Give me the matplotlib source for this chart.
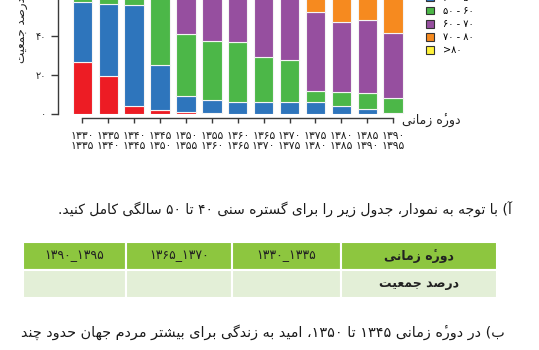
import matplotlib
matplotlib.use('Agg')
import matplotlib.pyplot as plt
from matplotlib.patches import Patch

plt.rcParams['font.family'] = 'DejaVu Sans'

# ---- data (part above 59% is cut off) ----
period_start = [1330, 1335, 1340, 1345, 1350, 1355, 1360, 1365, 1370, 1375, 1380, 1385, 1390]
period_end = [1335, 1340, 1345, 1350, 1355, 1360, 1365, 1370, 1375, 1380, 1385, 1390, 1395]
under_40 = [26.5, 19.6, 3.8, 1.7, 0.8, 0.4, 0, 0, 0, 0, 0, 0, 0]
age_40_50 = [31.1, 37.2, 52.5, 23.3, 8.2, 6.5, 5.8, 5.8, 5.8, 5.8, 4.1, 2.1, 0.5]
age_50_60 = [30, 29, 28.5, 45, 32, 30.5, 30.9, 23.5, 21.6, 5.7, 6.9, 8.5, 7.3]
age_60_70 = [12, 14, 15, 29, 57, 59, 59, 65, 66, 41.2, 36.5, 37.6, 33.9]
age_70_80 = [0.4, 0.2, 0.2, 1, 2, 3.6, 4.3, 5.7, 6.6, 42, 46, 44, 48]
over_80 = [0, 0, 0, 0, 0, 0, 0, 0, 0, 5.3, 6.5, 7.8, 10.3]
series = [under_40, age_40_50, age_50_60, age_60_70, age_70_80, over_80]
legend_labels = ['<۴۰', '۴۰ - ۵۰', '۵۰ - ۶۰', '۶۰ - ۷۰', '۷۰ - ۸۰', '>۸۰']
colors = ['#ED1C24', '#2E75BC', '#4CB748', '#964F9F', '#F68A1F', '#FFF23A']
y_ticks = [0, 20, 40]

table_periods = ['۱۳۹۰_۱۳۹۵', '۱۳۶۵_۱۳۷۰', '۱۳۳۰_۱۳۳۵']

# ---- minimal Persian shaping (matplotlib has no bidi / joining) ----
FORMS = {
    'ا': (0xFE8D, 0xFE8E, None, None), 'آ': (0xFE81, 0xFE82, None, None),
    'ب': (0xFE8F, 0xFE90, 0xFE91, 0xFE92), 'پ': (0xFB56, 0xFB57, 0xFB58, 0xFB59),
    'ت': (0xFE95, 0xFE96, 0xFE97, 0xFE98), 'ج': (0xFE9D, 0xFE9E, 0xFE9F, 0xFEA0),
    'چ': (0xFB7A, 0xFB7B, 0xFB7C, 0xFB7D), 'ح': (0xFEA1, 0xFEA2, 0xFEA3, 0xFEA4),
    'د': (0xFEA9, 0xFEAA, None, None), 'ر': (0xFEAD, 0xFEAE, None, None),
    'ز': (0xFEAF, 0xFEB0, None, None), 'س': (0xFEB1, 0xFEB2, 0xFEB3, 0xFEB4),
    'ش': (0xFEB5, 0xFEB6, 0xFEB7, 0xFEB8), 'ص': (0xFEB9, 0xFEBA, 0xFEBB, 0xFEBC),
    'ع': (0xFEC9, 0xFECA, 0xFECB, 0xFECC), 'ک': (0xFB8E, 0xFB8F, 0xFB90, 0xFB91),
    'گ': (0xFB92, 0xFB93, 0xFB94, 0xFB95), 'ل': (0xFEDD, 0xFEDE, 0xFEDF, 0xFEE0),
    'م': (0xFEE1, 0xFEE2, 0xFEE3, 0xFEE4), 'ن': (0xFEE5, 0xFEE6, 0xFEE7, 0xFEE8),
    'و': (0xFEED, 0xFEEE, None, None), 'ه': (0xFEE9, 0xFEEA, 0xFEEB, 0xFEEC),
    'ی': (0xFBFC, 0xFBFD, 0xFBFE, 0xFBFF),
}
MARKS = {'\u0654'}
DIGITS = set('۰۱۲۳۴۵۶۷۸۹0123456789')
MIRROR = {'(': ')', ')': '('}


def shape(text):
    res = []
    n = len(text)
    for i, c in enumerate(text):
        if c not in FORMS:
            res.append(c)
            continue
        j = i - 1
        while j >= 0 and text[j] in MARKS:
            j -= 1
        k = i + 1
        while k < n and text[k] in MARKS:
            k += 1
        joins_prev = j >= 0 and text[j] in FORMS and FORMS[text[j]][2] is not None
        joins_next = k < n and text[k] in FORMS and FORMS[c][2] is not None
        iso, fin, ini, med = FORMS[c]
        if joins_prev and joins_next:
            g = med
        elif joins_prev:
            g = fin
        elif joins_next:
            g = ini
        else:
            g = iso
        res.append(chr(g))
    return ''.join(res)


def fa(text):
    text = text.replace('ي', 'ی').replace('ك', 'ک')
    s = shape(text)
    clusters = []
    for c in s:
        if c in MARKS and clusters:
            clusters[-1] += c
        else:
            clusters.append(MIRROR.get(c, c))
    clusters.reverse()
    out, run = [], []
    for cl in clusters:
        if cl in DIGITS:
            run.append(cl)
        else:
            out.extend(reversed(run))
            run = []
            out.append(cl)
    out.extend(reversed(run))
    return ''.join(out)


def fa_num(v):
    return str(v).translate(str.maketrans('0123456789', '۰۱۲۳۴۵۶۷۸۹'))


# ---- figure ----
W, H = 539, 350
fig = plt.figure(figsize=(W / 100, H / 100), dpi=100, facecolor='white')

px_unit = 1.935          # pixels per percent
x_step = 25.9            # pixels per bar
ax_left, ax_bottom = 57.5, 113.5
x0, x1 = -0.96, 12.6
ax = fig.add_axes([ax_left / W, 1 - ax_bottom / H,
                   (x1 - x0) * x_step / W, 100 * px_unit / H])
ax.set_xlim(x0, x1)
ax.set_ylim(0, 100)

xs = list(range(len(period_start)))
bottom = [0] * len(xs)
handles = []
for vals, col, lab in zip(series, colors, legend_labels):
    ax.bar(xs, vals, bottom=bottom, width=0.75, color=col,
           edgecolor='#f4f4f4', linewidth=0.8)
    bottom = [b + v for b, v in zip(bottom, vals)]
    handles.append(Patch(facecolor=col, edgecolor='#333333', linewidth=0.8, label=lab))

spine_col = '#3a3a3a'
for s in ['top', 'right']:
    ax.spines[s].set_visible(False)
ax.spines['bottom'].set_position(('outward', 3))
ax.spines['bottom'].set_bounds(0, 12)
ax.spines['left'].set_bounds(0, 100)
for s in ['bottom', 'left']:
    ax.spines[s].set_color(spine_col)
    ax.spines[s].set_linewidth(1.0)

ax.set_xticks(xs)
ax.set_xticklabels([fa_num(a) + '\n' + fa_num(b) for a, b in zip(period_start, period_end)],
                   fontsize=7.8, linespacing=1.05, color='#222222')
ax.set_yticks(y_ticks)
ax.set_yticklabels([fa_num(v) for v in y_ticks], fontsize=7, color='#222222')
ax.tick_params(axis='x', length=3.8, width=1.0, color=spine_col, pad=5.5)
ax.tick_params(axis='y', length=5, width=1.0, color=spine_col, pad=3.5)

leg = ax.legend(handles=handles, loc='upper left', frameon=False,
                bbox_to_anchor=(421 / W, 1 - (-25) / H), bbox_transform=fig.transFigure,
                fontsize=7, handlelength=0.8, handleheight=0.8,
                handletextpad=1.0, labelspacing=0.32, borderpad=0)

fig.text(22 / W, 1 - 63 / H, fa('درصد جمعیت'), rotation=90, ha='center', va='bottom',
         fontsize=8.5, color='#222222')
fig.text(431 / W, 1 - 121 / H, fa('دورهٔ زمانی'), ha='center', va='center',
         fontsize=9, color='#222222')

# ---- question text ----
fig.text(512 / W, 1 - 210 / H,
         fa('آ) با توجه به نمودار، جدول زیر را برای گستره سنی ۴۰ تا ۵۰ سالگی کامل کنید.'),
         ha='right', va='center', fontsize=10, color='#1a1a1a')
fig.text(505 / W, 1 - 332 / H,
         fa('ب) در دورهٔ زمانی ۱۳۴۵ تا ۱۳۵۰، امید به زندگی برای بیشتر مردم جهان حدود چند'),
         ha='right', va='center', fontsize=10.4, color='#1a1a1a')

# ---- table ----
t_left, t_right, t_top, t_bottom = 23, 497, 241.5, 298
tax = fig.add_axes([t_left / W, 1 - t_bottom / H, (t_right - t_left) / W, (t_bottom - t_top) / H])
tax.axis('off')
col_w = [103, 106, 109, 156]
col_w = [c / sum(col_w) for c in col_w]
cell_text = [table_periods + [fa('دورهٔ زمانی')], ['', '', '', fa('درصد جمعیت')]]
tbl = tax.table(cellText=cell_text, colWidths=col_w, bbox=[0, 0, 1, 1], cellLoc='center')
tbl.auto_set_font_size(False)
for (r, c), cell in tbl.get_celld().items():
    cell.set_edgecolor('white')
    cell.set_linewidth(1.5)
    cell.set_facecolor('#8DC63F' if r == 0 else '#E3EFD7')
    txt = cell.get_text()
    txt.set_color('#222222')
    txt.set_fontsize(9)
    if c == 3:
        txt.set_fontweight('bold')

fig.savefig('out.png', dpi=100, facecolor='white')
